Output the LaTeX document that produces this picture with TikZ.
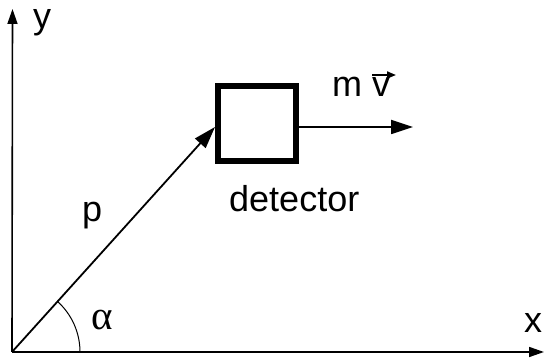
\documentclass[tikz,border=0pt]{standalone}
\usepackage{fontspec}
\setmainfont{Liberation Sans}
\newfontfamily\greekfont{Liberation Serif}
\usetikzlibrary{arrows.meta}
\begin{document}
\begin{tikzpicture}[x=1pt,y=1pt,
  lbl/.style={anchor=base west,inner sep=0pt,font=\fontsize{36}{40}\selectfont},
  axis/.style={line width=1.6pt,-{Triangle[length=15pt,width=10pt]}},
  bigarr/.style={line width=1.8pt,-{Triangle[length=22pt,width=14pt]}},
  vecarr/.style={line width=1.8pt,-{Triangle[length=9pt,width=7pt]}},
  detbox/.style={draw,line width=6pt,minimum width=78pt,minimum height=75pt,inner sep=0pt}]
\useasboundingbox (0,0) rectangle (544,358);
\coordinate (O) at (12,6);
\coordinate (ytip) at (12.5,349);
\coordinate (xtip) at (544,6);
\node[detbox] (box) at (257,234.5) {};
\coordinate (vtip) at (413,231);
\draw[axis] (O) -- (ytip);
\draw[axis] (O) -- (xtip);
\draw[bigarr] (O) -- ([yshift=-3.5pt]box.west);
\draw[bigarr] ([yshift=-3.5pt]box.east) -- (vtip);
\draw[line width=1pt] (80,6) arc[start angle=0,end angle=47.8,radius=68];
\node[lbl] (ylab) at (33,329) {y};
\node[lbl] (xlab) at (524,25) {x};
\node[lbl] (mlab) at (332,261) {m};
\node[lbl] (vlab) at (372,261) {v};
\coordinate (va) at (372,283);
\coordinate (vb) at (396,283);
\draw[vecarr] (va) -- (vb);
\node[lbl] (det) at (229,146) {detector};
\node[lbl] (plab) at (82,136) {p};
\node[anchor=base west,inner sep=0pt,font=\greekfont\fontsize{41}{44}\selectfont] (alab) at (91,28) {α};
\end{tikzpicture}
\end{document}
